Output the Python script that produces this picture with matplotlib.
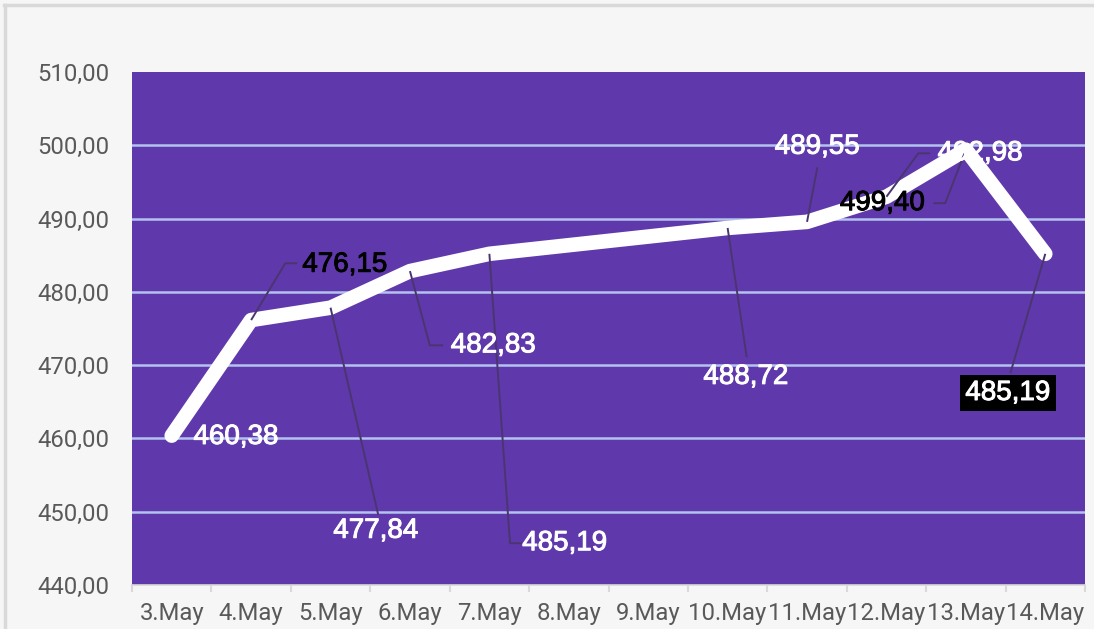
import numpy as np
import matplotlib
matplotlib.use("Agg")
import matplotlib.pyplot as plt
from matplotlib.lines import Line2D
import matplotlib.patheffects as pe

# ---- data ----
dates = ["3.May", "4.May", "5.May", "6.May", "7.May", "8.May", "9.May",
         "10.May", "11.May", "12.May", "13.May", "14.May"]
prices = [460.38, 476.15, 477.84, 482.83, 485.19, np.nan, np.nan,
          488.72, 489.55, 492.98, 499.40, 485.19]
label_texts = ["460,38", "476,15", "477,84", "482,83", "485,19", "", "",
               "488,72", "489,55", "492,98", "499,40", "485,19"]
y_ticks = [440, 450, 460, 470, 480, 490, 500, 510]
y_tick_labels = ["440,00", "450,00", "460,00", "470,00", "480,00", "490,00", "500,00", "510,00"]

# ---- layout of data labels (text pos, leader path points, colour, box) ----
label_layout = {
    0: dict(xy=(0.81, 460.2), path=[], color="white", box=False),
    1: dict(xy=(2.18, 483.7), path=[(1.43, 483.9), (1.58, 483.9)], color="black", box=False),
    2: dict(xy=(2.57, 447.4), path=[(2.60, 449.6)], color="white", box=False),
    3: dict(xy=(4.05, 472.7), path=[(3.25, 472.7), (3.42, 472.7)], color="white", box=False),
    4: dict(xy=(4.95, 445.7), path=[(4.26, 445.7), (4.41, 445.7)], color="white", box=False),
    7: dict(xy=(7.23, 468.4), path=[(7.24, 471.1)], color="white", box=False),
    8: dict(xy=(8.13, 499.8), path=[(8.13, 497.0)], color="white", box=False),
    9: dict(xy=(10.18, 498.9), path=[(9.40, 498.9), (9.55, 498.9)], color="white", box=False),
    10: dict(xy=(8.95, 492.1), path=[(9.74, 492.1), (9.59, 492.1)], color="black", box=False),
    11: dict(xy=(10.53, 466.2), path=[(10.56, 468.9)], color="white", box=True),
}

PURPLE = "#5f39ab"
GRID = "#b3c3ee"
LEADER = "#4a3570"
TICKC = "#595959"

fig = plt.figure(figsize=(10.94, 6.29), dpi=100)
fig.patch.set_facecolor("#f6f6f6")
# border (top & left)
fig.add_artist(Line2D([4/1094, 1.0], [1-5/629, 1-5/629], transform=fig.transFigure,
                      color="#d9d9d9", lw=2.5))
fig.add_artist(Line2D([5/1094, 5/1094], [0, 1-5/629], transform=fig.transFigure,
                      color="#d9d9d9", lw=2.5))

ax = fig.add_axes([132/1094, 1-585/629, (1085-132)/1094, (585-72)/629])
ax.set_facecolor(PURPLE)

x = np.arange(len(dates))
p = np.array(prices, dtype=float)
valid = ~np.isnan(p)

for v in y_ticks[1:-1]:
    ax.axhline(v, color=GRID, lw=1.8, zorder=1)

ax.plot(x[valid], p[valid], color="white", lw=10.5, solid_capstyle="round",
        solid_joinstyle="round", zorder=3)

ax.set_xlim(-0.5, len(dates) - 0.5)
ax.set_ylim(440, 510)

for i, lay in label_layout.items():
    pts = [(x[i], p[i])] + lay["path"]
    if lay["path"]:
        ax.plot([q[0] for q in pts], [q[1] for q in pts], color=LEADER, lw=1.4,
                zorder=4, solid_capstyle="butt")
    kw = {}
    if lay["box"]:
        kw["bbox"] = dict(boxstyle="square,pad=0.18", fc="black", ec="none")
    ax.text(lay["xy"][0], lay["xy"][1], label_texts[i], color=lay["color"],
            fontsize=20, family="Liberation Sans", ha="center", va="center",
            zorder=5,
            path_effects=[pe.withStroke(linewidth=0.7, foreground=lay["color"])],
            **kw)

ax.set_yticks(y_ticks)
ax.set_yticklabels(y_tick_labels, family="Roboto", fontsize=17.2, color=TICKC)
ax.set_xticks(x)
ax.set_xticklabels(dates, family="Roboto", fontsize=17.2, color=TICKC)
ax.set_xticks(np.arange(-0.5, len(dates)), minor=True)
ax.tick_params(axis="y", length=0, pad=16)
ax.tick_params(axis="x", which="major", length=0, pad=12)
ax.tick_params(axis="x", which="minor", length=5, width=1.5, color="#d9d9d9", direction="out")

for s in ["top", "right", "left"]:
    ax.spines[s].set_visible(False)
ax.spines["bottom"].set_color("#d9d9d9")
ax.spines["bottom"].set_linewidth(1.2)

fig.savefig("out.png", dpi=100, facecolor=fig.get_facecolor())
